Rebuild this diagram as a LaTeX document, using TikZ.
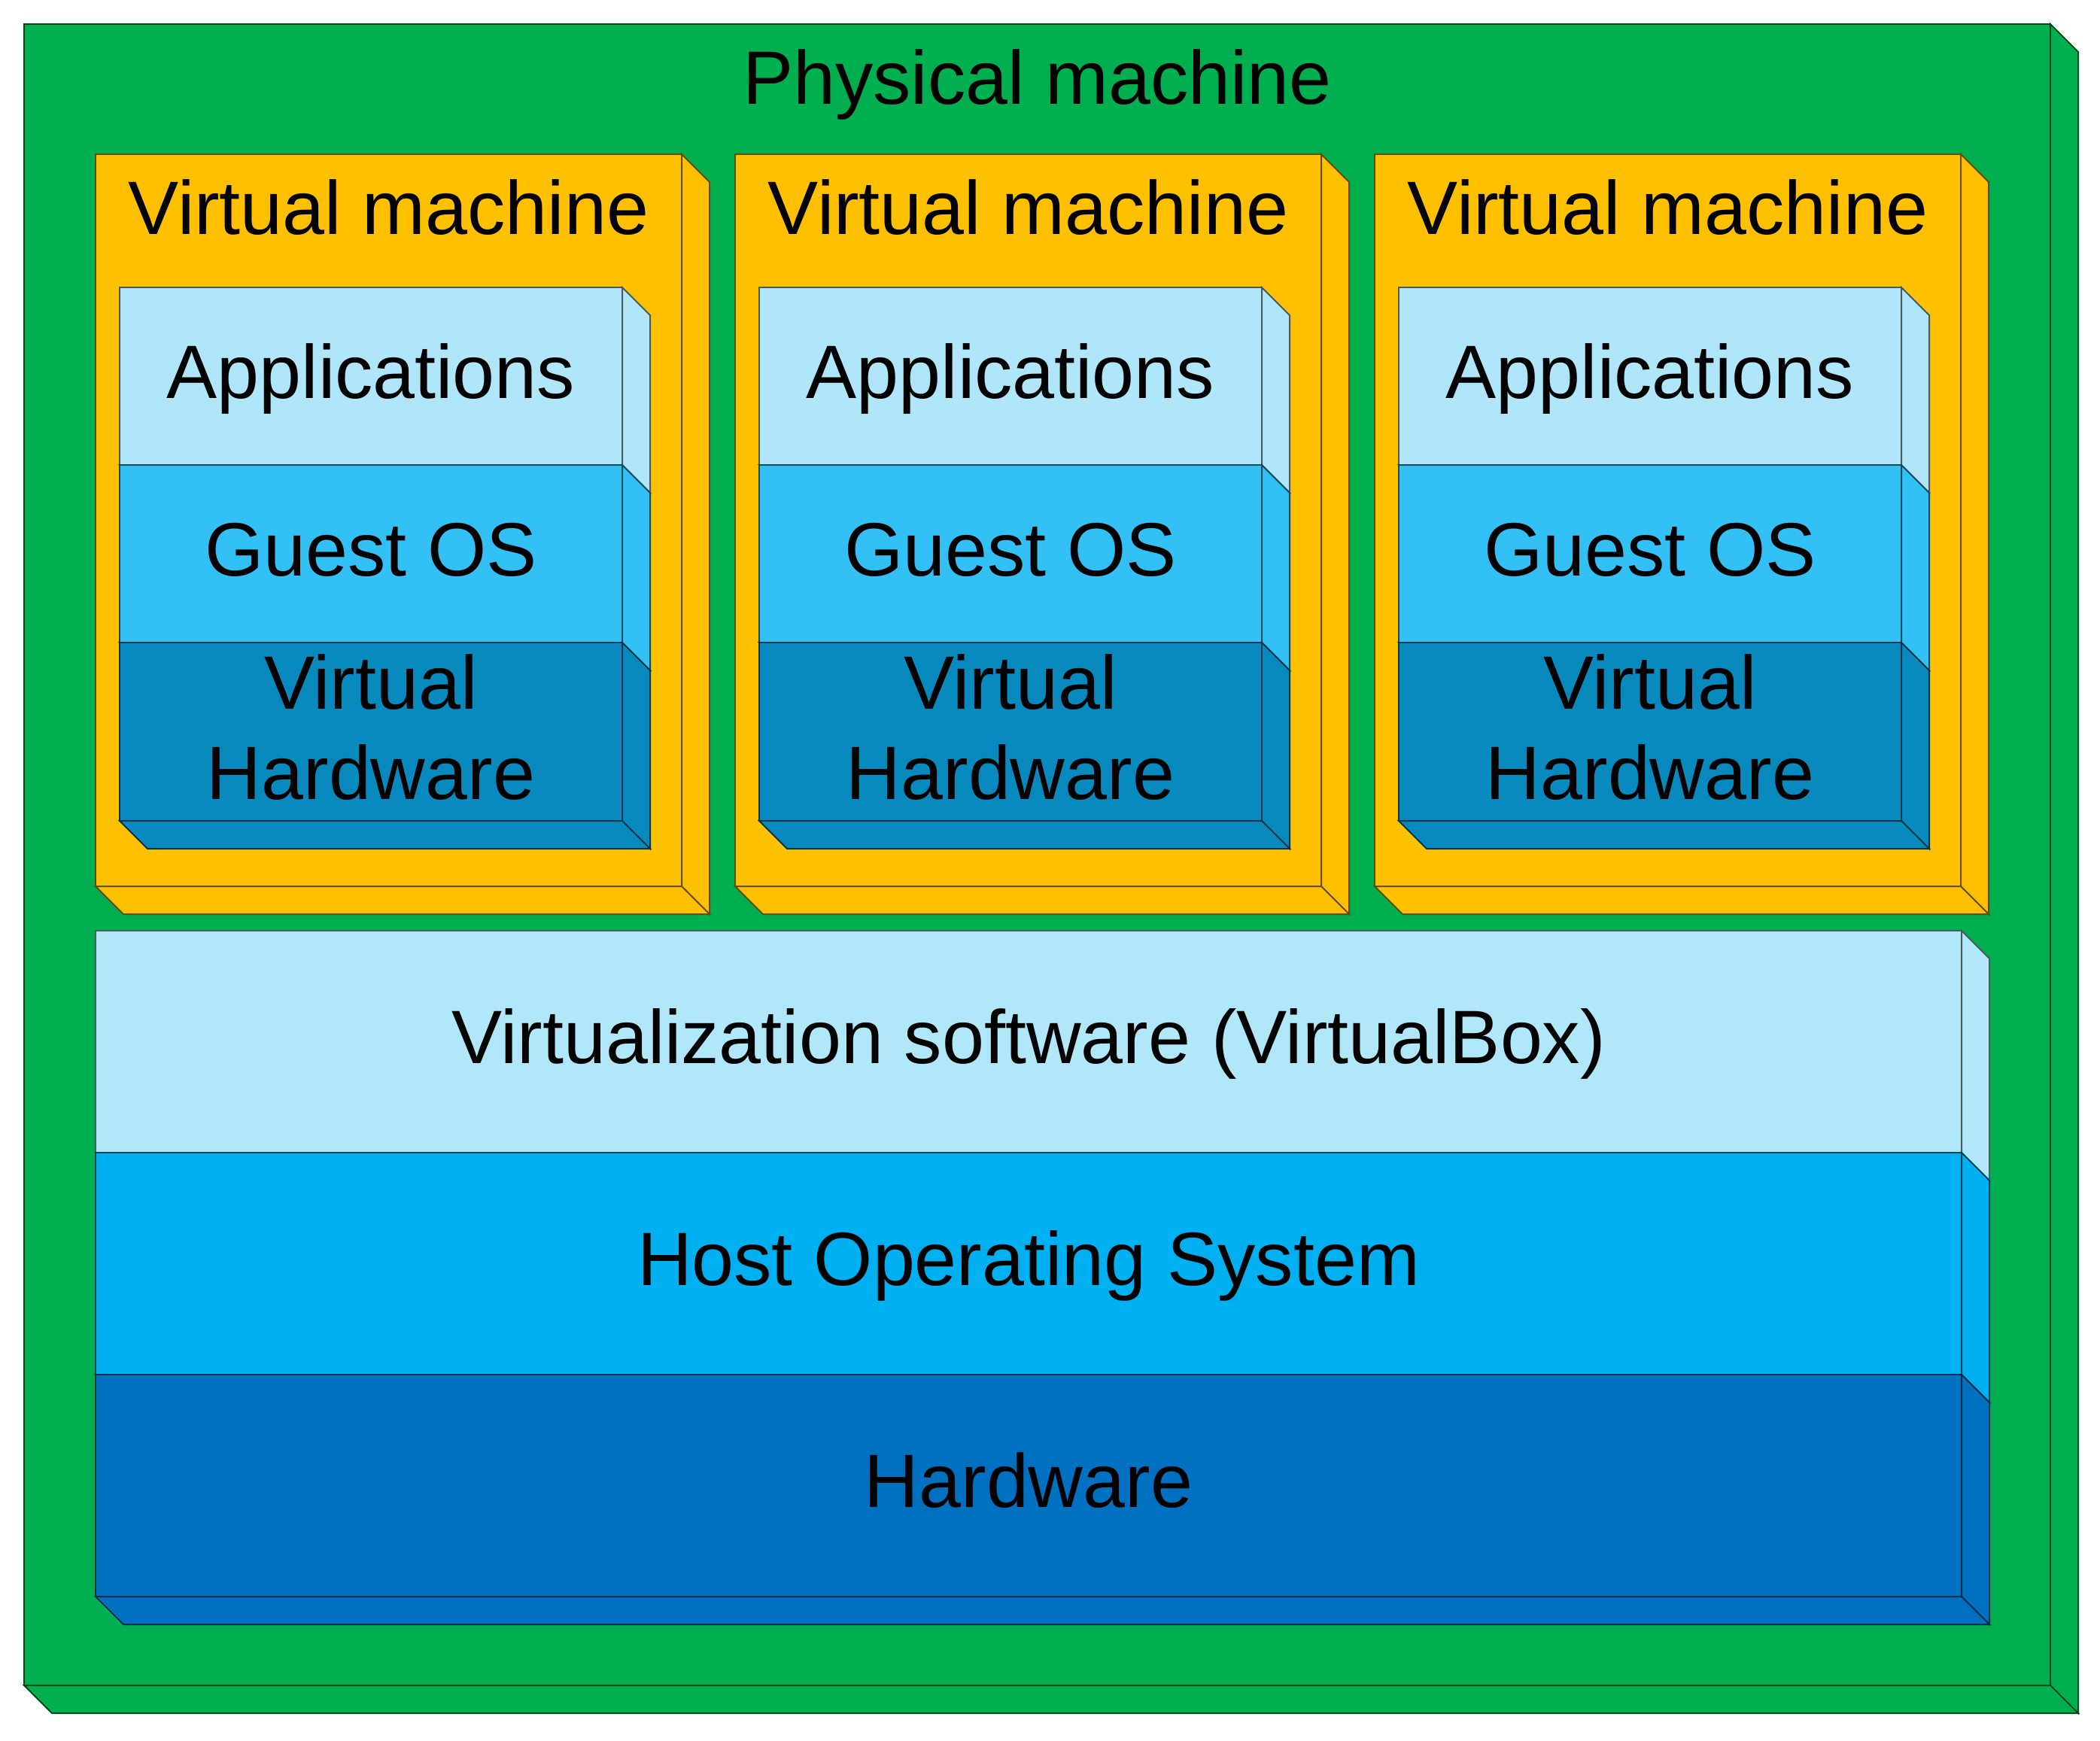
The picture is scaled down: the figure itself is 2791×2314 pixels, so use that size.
\documentclass[tikz,border=0pt]{standalone}
\usepackage{fontspec}
\setmainfont{Liberation Sans}
\definecolor{pmgreen}{HTML}{00B050}
\definecolor{vmorange}{HTML}{FFC000}
\definecolor{applight}{HTML}{B0E6FA}
\definecolor{guestblue}{HTML}{33C0F5}
\definecolor{vhwblue}{HTML}{088ABE}
\definecolor{virtlight}{HTML}{B0E8FA}
\definecolor{hostblue}{HTML}{00B0F0}
\definecolor{hwblue}{HTML}{0070C0}
\tikzset{
  lbl/.style={inner sep=0pt, anchor=base, font=\fontsize{50.3}{60}\selectfont},
  lbltwo/.style={inner sep=0pt, anchor=center, align=center, font=\fontsize{50.3}{60}\selectfont},
  facestyle/.style={line width=1pt, draw=#1!40!black, fill=#1, line join=miter},
}
% 3D box: x1 y1 x2 y2 colour (depth 37 px, to the right and down)
\newcommand\threedbox[5]{%
  \draw[facestyle=#5] (#1,#2) rectangle (#3,#4);
  \draw[facestyle=#5] (#3,#2) -- (#3+37,#2+37) -- (#3+37,#4+37) -- (#3,#4) -- cycle;
  \draw[facestyle=#5] (#1,#4) -- (#3,#4) -- (#3+37,#4+37) -- (#1+37,#4+37) -- cycle;
}
\begin{document}
\begin{tikzpicture}[x=0.5pt,y=-0.5pt]
\useasboundingbox (0,0) rectangle (2791,2314);
\fill[white] (0,0) rectangle (2791,2314);
% physical machine
\threedbox{32}{32}{2725}{2240}{pmgreen}
\node[lbl] (pm) at (1378.5,138) {Physical machine};
% virtual machines
\foreach \o/\n in {0/1,850/2,1700/3}{
  \threedbox{127+\o}{205}{906+\o}{1178}{vmorange}
  \node[lbl] (vm\n) at (516.5+\o,311) {Virtual machine};
  \threedbox{159+\o}{382}{827+\o}{618}{applight}
  \threedbox{159+\o}{618}{827+\o}{854}{guestblue}
  \threedbox{159+\o}{854}{827+\o}{1091}{vhwblue}
  \node[lbl] (app\n) at (493+\o,529) {Applications};
  \node[lbl] (guest\n) at (493+\o,765) {Guest OS};
  \node[lbltwo] (vhw\n) at (493+\o,967) {Virtual\\Hardware};
}
% host stack
\threedbox{127}{1237}{2607}{1532}{virtlight}
\threedbox{127}{1532}{2607}{1827}{hostblue}
\threedbox{127}{1827}{2607}{2122}{hwblue}
\node[lbl] (virt) at (1367,1413) {Virtualization software (VirtualBox)};
\node[lbl] (host) at (1367,1708) {Host Operating System};
\node[lbl] (hw) at (1367,2003) {Hardware};
\end{tikzpicture}
\end{document}
